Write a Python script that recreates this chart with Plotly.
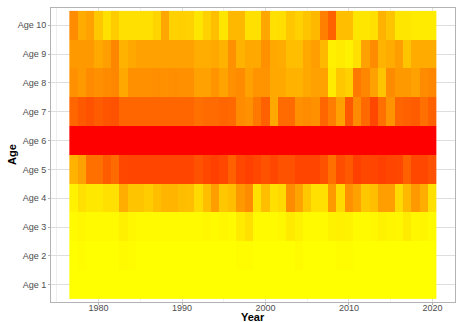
import plotly.graph_objects as go

years = list(range(1977, 2021))
ages = ["Age 1", "Age 2", "Age 3", "Age 4", "Age 5", "Age 6", "Age 7", "Age 8", "Age 9", "Age 10"]

age1 = [0.0] * 44
age2 = [0.0, 0.01, 0.0, 0.0, 0.0, 0.0, 0.02, 0.01, 0.0, 0.0, 0.0, 0.0, 0.0, 0.0, 0.0, 0.0, 0.0, 0.0, 0.0, 0.0,
        0.01, 0.01, 0.0, 0.0, 0.0, 0.0, 0.0, 0.02, 0.0, 0.0, 0.0, 0.0, 0.01, 0.01, 0.0, 0.0, 0.0, 0.0, 0.0, 0.0,
        0.0, 0.0, 0.0, 0.0]
age3 = [0.02, 0.03, 0.02, 0.02, 0.02, 0.02, 0.06, 0.03, 0.02, 0.02, 0.02, 0.02, 0.02, 0.02, 0.02, 0.02, 0.03, 0.02,
        0.03, 0.02, 0.08, 0.12, 0.02, 0.02, 0.02, 0.03, 0.08, 0.05, 0.02, 0.02, 0.02, 0.05, 0.06, 0.05, 0.02, 0.02,
        0.03, 0.05, 0.04, 0.03, 0.08, 0.03, 0.04, 0.02]
age4 = [0.05, 0.12, 0.09, 0.09, 0.12, 0.12, 0.32, 0.23, 0.23, 0.20, 0.25, 0.29, 0.29, 0.26, 0.25, 0.15, 0.25, 0.38,
        0.22, 0.25, 0.40, 0.45, 0.12, 0.25, 0.12, 0.15, 0.45, 0.36, 0.22, 0.12, 0.12, 0.40, 0.15, 0.43, 0.37, 0.22,
        0.25, 0.38, 0.38, 0.15, 0.28, 0.40, 0.32, 0.12]
age5 = [0.30, 0.37, 0.56, 0.56, 0.64, 0.58, 0.72, 0.73, 0.73, 0.73, 0.73, 0.73, 0.73, 0.73, 0.73, 0.68, 0.72, 0.75,
        0.72, 0.62, 0.72, 0.75, 0.72, 0.68, 0.72, 0.68, 0.68, 0.73, 0.73, 0.73, 0.68, 0.56, 0.70, 0.65, 0.75, 0.72,
        0.73, 0.75, 0.73, 0.72, 0.62, 0.72, 0.72, 0.68]
age6 = [1.0] * 44
age7 = [0.60, 0.65, 0.68, 0.64, 0.67, 0.68, 0.60, 0.60, 0.60, 0.60, 0.60, 0.60, 0.60, 0.60, 0.60, 0.56, 0.58, 0.58,
        0.60, 0.59, 0.45, 0.43, 0.53, 0.62, 0.34, 0.58, 0.58, 0.43, 0.45, 0.43, 0.60, 0.51, 0.37, 0.65, 0.45, 0.59,
        0.72, 0.56, 0.42, 0.60, 0.62, 0.64, 0.56, 0.62]
age8 = [0.43, 0.40, 0.45, 0.43, 0.45, 0.47, 0.34, 0.43, 0.43, 0.43, 0.44, 0.43, 0.44, 0.43, 0.43, 0.37, 0.37, 0.42,
        0.36, 0.43, 0.45, 0.37, 0.42, 0.42, 0.34, 0.34, 0.30, 0.30, 0.34, 0.37, 0.37, 0.08, 0.22, 0.18, 0.53, 0.47,
        0.37, 0.23, 0.45, 0.40, 0.40, 0.37, 0.45, 0.47]
age9 = [0.40, 0.40, 0.40, 0.34, 0.38, 0.47, 0.30, 0.34, 0.37, 0.37, 0.37, 0.37, 0.37, 0.37, 0.37, 0.32, 0.32, 0.34,
        0.30, 0.43, 0.30, 0.34, 0.34, 0.43, 0.34, 0.33, 0.25, 0.25, 0.34, 0.38, 0.28, 0.06, 0.08, 0.05, 0.12, 0.37,
        0.45, 0.30, 0.33, 0.38, 0.23, 0.33, 0.33, 0.33]
age10 = [0.45, 0.33, 0.37, 0.22, 0.12, 0.20, 0.12, 0.12, 0.12, 0.12, 0.17, 0.35, 0.18, 0.19, 0.18, 0.10, 0.18, 0.25,
         0.10, 0.28, 0.28, 0.12, 0.12, 0.35, 0.12, 0.13, 0.22, 0.18, 0.23, 0.28, 0.50, 0.62, 0.25, 0.25, 0.10, 0.10,
         0.12, 0.30, 0.23, 0.10, 0.10, 0.08, 0.08, 0.08]

z = [age1, age2, age3, age4, age5, age6, age7, age8, age9, age10]

major_years = [1980, 1990, 2000, 2010, 2020]
minor_years = [1975, 1985, 1995, 2005, 2015]

fig = go.Figure(go.Heatmap(
    x=years, y=ages, z=z,
    zmin=0, zmax=1,
    colorscale=[[0, "#FFFF00"], [1, "#FF0000"]],
    showscale=False,
))

FONT = "Liberation Sans, Arial, sans-serif"
tick_font = dict(family=FONT, size=9, color="#4D4D4D")
title_font = dict(family=FONT, size=11, color="black")

L, R, T, B = 51, 2, 8, 20
W, H = 457, 322
pw, ph = W - L - R, H - T - B

fig.update_layout(
    width=W, height=H,
    margin=dict(l=L, r=R, t=T, b=B),
    plot_bgcolor="white", paper_bgcolor="white",
    xaxis=dict(
        range=[1974.3, 2022.7],
        tickvals=major_years, ticktext=[str(y) for y in major_years],
        tickfont=tick_font,
        showgrid=True, gridcolor="#DEDEDE", gridwidth=0.7,
        minor=dict(tickvals=minor_years, showgrid=True, gridcolor="#F0F0F0", gridwidth=0.5),
        ticks="outside", ticklen=2, tickcolor="#B3B3B3",
        ticklabelstandoff=-5,
        showline=True, linecolor="#B3B3B3", linewidth=1, mirror=True,
        zeroline=False, automargin=False,
    ),
    yaxis=dict(
        type="category",
        range=[-0.6, 9.6],
        tickfont=tick_font,
        showgrid=True, gridcolor="#DEDEDE", gridwidth=0.7,
        ticks="outside", ticklen=2, tickcolor="#B3B3B3",
        showline=True, linecolor="#B3B3B3", linewidth=1, mirror=True,
        zeroline=False, automargin=False,
    ),
    annotations=[
        dict(text="<b>Year</b>", xref="paper", yref="paper", x=0.5, y=-15 / ph,
             xanchor="center", yanchor="middle", showarrow=False, font=title_font),
        dict(text="<b>Age</b>", xref="paper", yref="paper", x=-39 / pw, y=0.5,
             xanchor="center", yanchor="middle", showarrow=False, textangle=-90, font=title_font),
    ],
)

fig.write_html("out.html", config={"displayModeBar": False},
               post_script="document.body.style.margin='0';document.body.style.padding='0';")
